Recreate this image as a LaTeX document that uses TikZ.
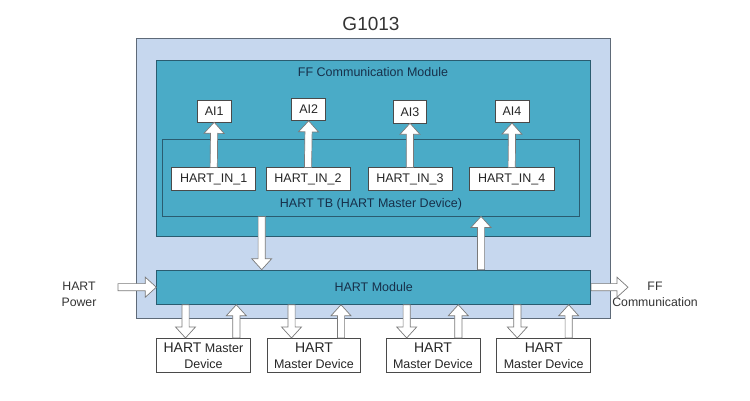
\documentclass[tikz,border=0pt]{standalone}
\usepackage{fontspec}
\setmainfont{Liberation Sans}
\usetikzlibrary{calc}
\definecolor{outerblue}{HTML}{C6D7EE}
\definecolor{tealfill}{HTML}{4AABC7}
\definecolor{tealborder}{HTML}{2A5C70}
\definecolor{outerborder}{HTML}{5E6A78}
\definecolor{navytext}{HTML}{17304A}
\definecolor{arrowgray}{HTML}{7A7A7A}
\definecolor{boxgray}{HTML}{4A4A4A}
\definecolor{labelgray}{HTML}{333333}
\begin{document}
\begin{tikzpicture}[x=1pt,y=-1pt,
  outerbox/.style={draw=outerborder, fill=outerblue, line width=0.8pt, inner sep=0pt},
  tealbox/.style={draw=tealborder, fill=tealfill, line width=0.8pt, inner sep=0pt,
    text=navytext, font=\fontsize{12.5}{15}\selectfont},
  whitebox/.style={draw=boxgray, fill=white, line width=0.7pt, inner sep=0pt,
    text=black!85, font=\fontsize{12.5}{16}\selectfont, align=center},
  tealtext/.style={text=navytext, font=\fontsize{12.5}{15}\selectfont, inner sep=0pt},
  sidetext/.style={text=labelgray, font=\fontsize{12.3}{16.5}\selectfont, align=center, inner sep=0pt},
  barrow/.style={draw=arrowgray, fill=white, line width=0.7pt, line join=miter,
    to path={
      ($(\tikztostart)!3.6pt!90:(\tikztotarget)$)
      -- ($(\tikztotarget)!11pt!(\tikztostart)!3.6pt!-90:(\tikztostart)$)
      -- ($(\tikztotarget)!11pt!(\tikztostart)!10pt!-90:(\tikztostart)$)
      -- (\tikztotarget)
      -- ($(\tikztotarget)!11pt!(\tikztostart)!10pt!90:(\tikztostart)$)
      -- ($(\tikztotarget)!11pt!(\tikztostart)!3.6pt!90:(\tikztostart)$)
      -- ($(\tikztostart)!3.6pt!-90:(\tikztotarget)$)
      -- cycle}}
]
\useasboundingbox (0,0) rectangle (750,400);

% title
\node[text=labelgray, font=\fontsize{19}{22}\selectfont, inner sep=0pt] (title) at (371,24) {G1013};

% containers
\node[outerbox, minimum width=474.7pt, minimum height=279.5pt] (outer) at (373.4,178.2) {};
\node[tealbox, minimum width=433.3pt, minimum height=176.7pt] (ff) at (373.4,148.4) {};
\node[tealtext] (fflabel) at (373,72) {FF Communication Module};
\node[tealbox, minimum width=416.3pt, minimum height=76.7pt] (tb) at (370.9,177.7) {};
\node[tealtext] (tblabel) at (371,204) {HART TB (HART Master Device)};
\node[tealbox, minimum width=434pt, minimum height=34.3pt] (hm) at (373.7,287.2) {HART Module};

% AI boxes
\node[whitebox, minimum width=34pt, minimum height=21.5pt] (ai1) at (214.2,111.2) {AI1};
\node[whitebox, minimum width=34pt, minimum height=22pt] (ai2) at (308.7,109.5) {AI2};
\node[whitebox, minimum width=33.5pt, minimum height=22.5pt] (ai3) at (410,111.7) {AI3};
\node[whitebox, minimum width=34pt, minimum height=22.5pt] (ai4) at (512,111.5) {AI4};

% HART_IN boxes
\node[whitebox, minimum width=84pt, minimum height=23pt] (hin1) at (213.7,179.3) {HART\_IN\_1};
\node[whitebox, minimum width=84pt, minimum height=23pt] (hin2) at (308,179.3) {HART\_IN\_2};
\node[whitebox, minimum width=84pt, minimum height=23pt] (hin3) at (409.9,179.3) {HART\_IN\_3};
\node[whitebox, minimum width=84.7pt, minimum height=23pt] (hin4) at (511.7,179.3) {HART\_IN\_4};

% device boxes
\node[whitebox, minimum width=93.3pt, minimum height=34pt] (dev1) at (203.4,355.3)
  {{\fontsize{14}{16}\selectfont HART} Master\\Device};
\node[whitebox, minimum width=93.4pt, minimum height=34pt] (dev2) at (314,355.3)
  {{\fontsize{14}{16}\selectfont HART}\\Master Device};
\node[whitebox, minimum width=94pt, minimum height=34pt] (dev3) at (433,355.3)
  {{\fontsize{14}{16}\selectfont HART}\\Master Device};
\node[whitebox, minimum width=94pt, minimum height=34pt] (dev4) at (543.7,355.3)
  {{\fontsize{14}{16}\selectfont HART}\\Master Device};

% side labels
\node[sidetext] (pwlabel) at (79,294.5) {HART\\Power};
\node[sidetext] (commlabel) at (655,294.5) {FF\\Communication};

% helper coordinates
\coordinate (tbd) at (261.7,0);
\coordinate (hmu) at (481,0);
\coordinate (pw) at (118,287.2);
\coordinate (ffc) at (628,287.2);
\coordinate (d1a) at (185.5,0);
\coordinate (d1b) at (236.3,0);
\coordinate (d2a) at (291.5,0);
\coordinate (d2b) at (341,0);
\coordinate (d3a) at (406.7,0);
\coordinate (d3b) at (458.3,0);
\coordinate (d4a) at (517.3,0);
\coordinate (d4b) at (568.7,0);

% arrows HART_IN -> AI
\draw[barrow] (hin1.north) to (ai1.south);
\draw[barrow] (hin2.north) to (ai2.south);
\draw[barrow] (hin3.north) to (ai3.south);
\draw[barrow] (hin4.north) to (ai4.south);

% arrows between TB and HART module
\draw[barrow] (tb.south -| tbd) to (hm.north -| tbd);
\draw[barrow] (hm.north -| hmu) to (tb.south -| hmu);

% power and FF communication
\draw[barrow] (pw) to (hm.west);
\draw[barrow] (hm.east) to (ffc);

% device arrows
\draw[barrow] (hm.south -| d1a) to (dev1.north -| d1a);
\draw[barrow] (dev1.north -| d1b) to (hm.south -| d1b);
\draw[barrow] (hm.south -| d2a) to (dev2.north -| d2a);
\draw[barrow] (dev2.north -| d2b) to (hm.south -| d2b);
\draw[barrow] (hm.south -| d3a) to (dev3.north -| d3a);
\draw[barrow] (dev3.north -| d3b) to (hm.south -| d3b);
\draw[barrow] (hm.south -| d4a) to (dev4.north -| d4a);
\draw[barrow] (dev4.north -| d4b) to (hm.south -| d4b);
\end{tikzpicture}
\end{document}
